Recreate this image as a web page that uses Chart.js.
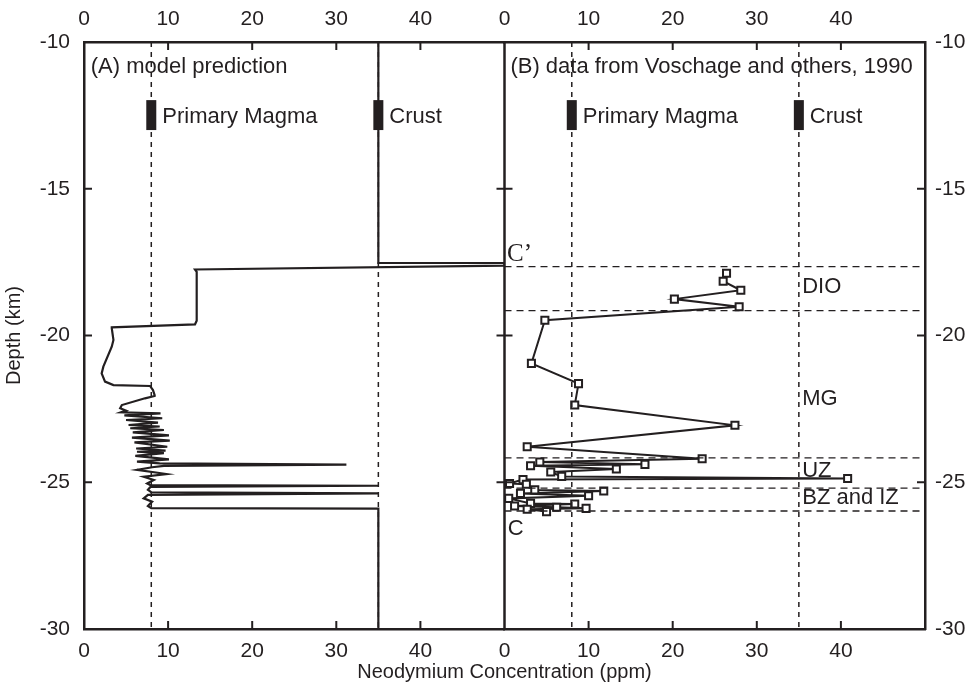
<!DOCTYPE html>
<html>
<head>
<meta charset="utf-8">
<title>Neodymium concentration vs depth</title>
<script src="https://cdn.jsdelivr.net/npm/chart.js@4/dist/chart.umd.min.js"></script>
<style>
  html, body { margin: 0; padding: 0; background: #fff; }
</style>
</head>
<body>
<canvas id="mycanvas" width="973" height="687"></canvas>
<script>
// (A) model prediction: Nd (ppm) against depth (km)
var modelNd = [35, 35, 50, 50, 13.2, 13.4, 13.4, 13.2, 3.3, 3.3, 3.5, 3.3, 2.3, 2.1, 2.5, 3.5, 7.85, 8.2, 8.4, 8.4,
	7.25, 4.5, 4.3, 5.0, 4.4, 9.1, 4.8, 9.3, 5.0, 8.8, 5.3, 9.0, 5.5, 9.5, 5.8, 10.1, 5.7, 10.2, 6.0, 9.9,
	6.2, 9.7, 6.3, 9.5, 6.1, 10.1, 6.3, 9.0, 31.2, 9.5, 8.1, 6.3, 9.8, 7.1, 8.3, 7.5, 7.9, 35, 7.9, 7.6,
	8.0, 35, 7.6, 7.1, 8.1, 7.6, 8.0, 35, 35];
var modelDepth = [-10, -17.53, -17.53, -17.62, -17.75, -17.83, -19.5, -19.62, -19.72, -19.75, -20.15, -20.38, -21.06, -21.29, -21.57, -21.69, -21.72, -21.86, -22.03, -22.06,
	-22.14, -22.37, -22.48, -22.56, -22.62, -22.65, -22.72, -22.82, -22.88, -22.97, -23.05, -23.1, -23.16, -23.22, -23.3, -23.4, -23.48, -23.58, -23.64, -23.79,
	-23.85, -23.92, -23.96, -24.01, -24.1, -24.22, -24.3, -24.36, -24.4, -24.44, -24.49, -24.58, -24.72, -24.81, -24.92, -25.04, -25.1, -25.12, -25.16, -25.26,
	-25.34, -25.38, -25.43, -25.55, -25.66, -25.81, -25.88, -25.9, -30];

// (B) measured samples, Voschage and others (1990)
var sampleNd = [26.4, 26.0, 28.1, 20.2, 27.9, 4.8, 3.2, 8.8, 8.35, 27.4, 2.7, 23.5, 4.2, 16.7, 3.1, 13.3, 5.5, 6.8, 40.8,
	2.2, 0.6, 2.6, 3.6, 11.8, 1.9, 10.0, 0.5, 3.1, 8.35, 1.2, 6.2, 9.7, 2.7, 5.0];
var sampleDepth = [-17.88, -18.15, -18.46, -18.76, -19.02, -19.48, -20.95, -21.64, -22.37, -23.06, -23.79, -24.2, -24.31, -24.39, -24.44, -24.55, -24.65, -24.8, -24.87,
	-24.91, -25.04, -25.07, -25.26, -25.3, -25.38, -25.46, -25.55, -25.72, -25.74, -25.81, -25.85, -25.89, -25.92, -26.0];

// reference end-members
var refNd = [8, 35];
var refNames = ['Primary Magma', 'Crust'];

// zone boundaries and zone names in panel B
var zoneDepth = [-17.65, -19.15, -24.17, -25.2, -25.98];
var zoneNames = ['DIO', 'MG', 'UZ', 'BZ and IZ'];
var zoneNameDepth = [-18.35, -22.15, -24.62, -25.55];

var ndTicks = [0, 10, 20, 30, 40];
var depthTicks = [-10, -15, -20, -25, -30];

var ink = '#231f20';
var sans = '"Liberation Sans", Arial, Helvetica, sans-serif';
Chart.defaults.font.family = sans;
Chart.defaults.color = ink;

function zip(xs, ys) {
	return xs.map(function(v, i) { return {x: v, y: ys[i]}; });
}

function refLine(nd, axis) {
	return {
		data: zip([nd, nd], [-10, -30]),
		xAxisID: axis,
		showLine: true,
		borderColor: ink,
		borderWidth: 1.5,
		borderDash: [5, 5],
		pointRadius: 0
	};
}

var datasets = [];
['xA', 'xB'].forEach(function(axis) {
	refNd.forEach(function(nd) { datasets.push(refLine(nd, axis)); });
});
zoneDepth.forEach(function(d) {
	datasets.push({
		data: zip([0, 50], [d, d]),
		xAxisID: 'xB',
		showLine: true,
		borderColor: ink,
		borderWidth: 1.3,
		borderDash: [7, 5],
		pointRadius: 0
	});
});
datasets.push({
	label: 'model',
	data: zip(modelNd, modelDepth),
	xAxisID: 'xA',
	showLine: true,
	borderColor: ink,
	borderWidth: 2.2,
	pointRadius: 0
});
datasets.push({
	label: 'samples',
	data: zip(sampleNd, sampleDepth),
	xAxisID: 'xB',
	showLine: true,
	borderColor: ink,
	borderWidth: 2,
	pointStyle: 'rect',
	pointRadius: 5,
	pointBorderWidth: 2,
	pointBackgroundColor: '#fff',
	pointBorderColor: ink
});

function setTicks(list) {
	return function(scale) {
		scale.ticks = list.map(function(v) { return {value: v}; });
	};
}

function xScale(pos, height) {
	return {
		type: 'linear',
		position: pos,
		stack: pos,
		stackWeight: 1,
		min: 0,
		max: 50,
		afterBuildTicks: setTicks(ndTicks),
		afterFit: function(s) { s.height = height; },
		grid: {display: false},
		border: {display: true, color: ink, width: 2.5},
		ticks: {color: ink, font: {size: 21}, padding: 2, maxRotation: 0, autoSkip: false}
	};
}

function yScale(pos, width, pad) {
	return {
		type: 'linear',
		position: pos,
		min: -30,
		max: -10,
		afterBuildTicks: setTicks(depthTicks),
		afterFit: function(s) { s.width = width; },
		grid: {display: false},
		border: {display: true, color: ink, width: 2.5},
		ticks: {color: ink, font: {size: 21}, padding: pad}
	};
}

function line(c, x1, y1, x2, y2) {
	c.beginPath();
	c.moveTo(x1, y1);
	c.lineTo(x2, y2);
	c.stroke();
}

// frame divider, inward tick marks and all annotation text
var overlay = {
	id: 'overlay',
	afterDatasetsDraw: function(chart) {
		var c = chart.ctx, area = chart.chartArea, s = chart.scales;
		var mid = s.xB.getPixelForValue(0);
		c.save();
		c.strokeStyle = ink;
		c.fillStyle = ink;
		c.lineWidth = 2.5;
		line(c, mid, area.top, mid, area.bottom);

		c.lineWidth = 2;
		depthTicks.forEach(function(d) {
			if (d === -10 || d === -30) return;
			var py = s.y.getPixelForValue(d);
			line(c, area.left, py, area.left + 8, py);
			line(c, mid - 8, py, mid + 8, py);
			line(c, area.right - 8, py, area.right, py);
		});
		['xA', 'xB'].forEach(function(id) {
			ndTicks.forEach(function(v) {
				if (v === 0) return;
				var px = s[id].getPixelForValue(v);
				line(c, px, area.top, px, area.top + 8);
				line(c, px, area.bottom - 8, px, area.bottom);
			});
		});

		// end-member markers and names
		c.font = '22px ' + sans;
		c.textBaseline = 'middle';
		c.textAlign = 'left';
		var yTop = s.y.getPixelForValue(-11.98), yBot = s.y.getPixelForValue(-13.0);
		var yName = s.y.getPixelForValue(-12.55);
		['xA', 'xB'].forEach(function(id) {
			refNd.forEach(function(nd, i) {
				var px = s[id].getPixelForValue(nd);
				c.fillRect(px - 5, yTop, 10, yBot - yTop);
				c.fillText(refNames[i], px + 11, yName);
			});
		});

		var yHead = s.y.getPixelForValue(-10.85);
		c.fillText('(A) model prediction', s.xA.getPixelForValue(0.8), yHead);
		c.fillText('(B) data from Voschage and others, 1990', s.xB.getPixelForValue(0.7), yHead);

		zoneNames.forEach(function(name, i) {
			c.fillText(name, s.xB.getPixelForValue(35.4), s.y.getPixelForValue(zoneNameDepth[i]));
		});

		c.fillText('C', s.xB.getPixelForValue(0.4), s.y.getPixelForValue(-26.58));
		c.font = '25px "Liberation Serif", "Times New Roman", serif';
		c.fillText('C\u2019', s.xB.getPixelForValue(0.3), s.y.getPixelForValue(-17.25));

		c.font = '20px ' + sans;
		c.textAlign = 'center';
		c.fillText('Neodymium Concentration (ppm)', (area.left + area.right) / 2, 672);
		c.restore();
	}
};

var ctx = document.getElementById('mycanvas');
var ndChart = new Chart(ctx, {
	type: 'scatter',
	data: {datasets: datasets},
	plugins: [overlay],
	options: {
		responsive: false,
		animation: false,
		layout: {padding: 0},
		plugins: {legend: {display: false}, tooltip: {enabled: false}},
		scales: {
			y: Object.assign(yScale('left', 84, 6), {
				title: {display: true, text: 'Depth (km)', color: ink, font: {size: 20}, padding: {top: 2, bottom: 0}}
			}),
			y2: yScale('right', 48, 2),
			xA: xScale('bottom', 58),
			xB: xScale('bottom', 58),
			xAt: xScale('top', 42),
			xBt: xScale('top', 42)
		}
	}
});
</script>
</body>
</html>
